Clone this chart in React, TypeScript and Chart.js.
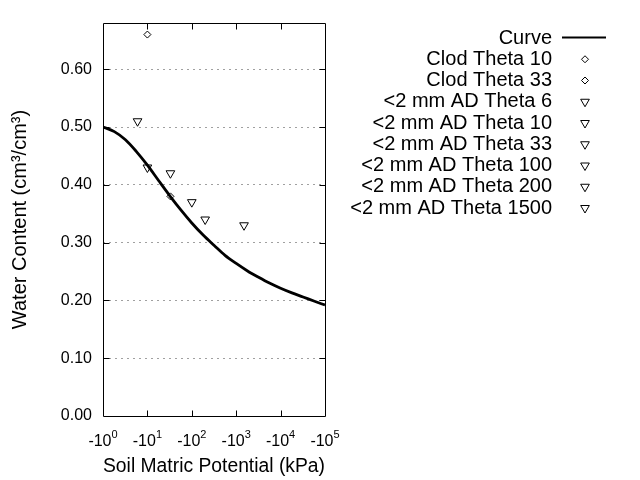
import React, { useEffect, useRef } from "react";
import { Chart, registerables } from "chart.js";

Chart.register(...registerables);

// Fitted retention curve (soil matric potential magnitude in kPa, water content)
const curvePotential = [1, 1.8, 3.2, 5.6, 10, 18, 32, 56, 100, 180, 320, 560, 1000, 1800, 3200, 5600, 10000, 18000, 32000, 56000, 100000];
const curveTheta = [0.5, 0.492, 0.478, 0.458, 0.434, 0.407, 0.381, 0.357, 0.334, 0.313, 0.295, 0.278, 0.264, 0.251, 0.24, 0.23, 0.221, 0.213, 0.206, 0.199, 0.192];

// Measured points
const pointLabels = [
  "Clod Theta 10",
  "Clod Theta 33",
  "<2 mm AD Theta 6",
  "<2 mm AD Theta 10",
  "<2 mm AD Theta 33",
  "<2 mm AD Theta 100",
  "<2 mm AD Theta 200",
  "<2 mm AD Theta 1500",
];
const pointPotential = [10, 33, 6, 10, 33, 100, 200, 1500];
const pointTheta = [0.66, 0.38, 0.51, 0.43, 0.42, 0.37, 0.34, 0.33];
const pointKind = ["diamond", "diamond", "tri", "tri", "tri", "tri", "tri", "tri"];

const xTickValues = [1, 10, 100, 1000, 10000, 100000];
const xTickBase = ["-10", "-10", "-10", "-10", "-10", "-10"];
const xTickExponent = ["0", "1", "2", "3", "4", "5"];
const yTickValues = [0, 0.1, 0.2, 0.3, 0.4, 0.5, 0.6];

const FONT = '"Liberation Sans", Arial, Helvetica, sans-serif';

function drawMarker(ctx: CanvasRenderingContext2D, kind: string, x: number, y: number) {
  ctx.beginPath();
  if (kind === "diamond") {
    const r = 3.5;
    ctx.moveTo(x, y - r);
    ctx.lineTo(x + r, y);
    ctx.lineTo(x, y + r);
    ctx.lineTo(x - r, y);
    ctx.closePath();
  } else {
    const r = 5;
    const s = Math.sqrt(3) / 2;
    ctx.moveTo(x, y + r);
    ctx.lineTo(x - r * s, y - r / 2);
    ctx.lineTo(x + r * s, y - r / 2);
    ctx.closePath();
  }
  ctx.stroke();
}

const framePlugin = {
  id: "frameTicks",
  afterDraw(chart: any) {
    const { ctx, chartArea } = chart;
    const { left, right, top, bottom } = chartArea;
    const xs = chart.scales.x;
    const ys = chart.scales.y;
    ctx.save();
    ctx.strokeStyle = "#000";
    ctx.lineWidth = 1;
    const L = Math.round(left) + 0.5;
    const R = Math.round(right) + 0.5;
    const T = Math.round(top) + 0.5;
    const B = Math.round(bottom) + 0.5;
    ctx.beginPath();
    ctx.rect(L, T, R - L, B - T);
    ctx.stroke();
    ctx.beginPath();
    xTickValues.forEach((v) => {
      const px = Math.round(xs.getPixelForValue(v)) + 0.5;
      if (px <= L + 1 || px >= R - 1) return;
      ctx.moveTo(px, B);
      ctx.lineTo(px, B - 6);
      ctx.moveTo(px, T);
      ctx.lineTo(px, T + 6);
    });
    yTickValues.forEach((v) => {
      const py = Math.round(ys.getPixelForValue(v)) + 0.5;
      if (py >= B - 1 || py <= T + 1) return;
      ctx.moveTo(L, py);
      ctx.lineTo(L + 6, py);
      ctx.moveTo(R, py);
      ctx.lineTo(R - 6, py);
    });
    ctx.stroke();

    // x tick labels with superscript exponents
    ctx.fillStyle = "#000";
    ctx.textBaseline = "alphabetic";
    ctx.textAlign = "left";
    xTickValues.forEach((v, i) => {
      const px = xs.getPixelForValue(v);
      ctx.font = "16px " + FONT;
      const wb = ctx.measureText(xTickBase[i]).width;
      ctx.font = "11px " + FONT;
      const we = ctx.measureText(xTickExponent[i]).width;
      const x0 = px - (wb + we) / 2;
      ctx.font = "16px " + FONT;
      ctx.fillText(xTickBase[i], x0, B + 29);
      ctx.font = "11px " + FONT;
      ctx.fillText(xTickExponent[i], x0 + wb, B + 21);
    });

    // legend
    ctx.font = "20px " + FONT;
    ctx.textAlign = "right";
    ctx.textBaseline = "middle";
    chart.data.datasets.forEach((ds: any, i: number) => {
      const y = 37 + i * 21.25;
      ctx.fillText(ds.label, 552, y + 1);
      if (i === 0) {
        ctx.lineWidth = 2;
        ctx.beginPath();
        ctx.moveTo(562, Math.round(y) + 0.5);
        ctx.lineTo(606, Math.round(y) + 0.5);
        ctx.stroke();
        ctx.lineWidth = 1;
      } else {
        drawMarker(ctx, pointKind[i - 1], 585, y + 1);
      }
    });
    ctx.restore();
  },
};

export default function App() {
  const ref = useRef<HTMLCanvasElement | null>(null);
  useEffect(() => {
    if (!ref.current) return;
    const datasets: any[] = [
      {
        label: "Curve",
        data: curvePotential.map((x, i) => ({ x, y: curveTheta[i] })),
        showLine: true,
        borderColor: "#000",
        borderWidth: 2.8,
        pointRadius: 0,
        cubicInterpolationMode: "monotone",
        fill: false,
      },
    ];
    pointLabels.forEach((label, i) => {
      const tri = pointKind[i] === "tri";
      datasets.push({
        label,
        data: [{ x: pointPotential[i], y: pointTheta[i] }],
        showLine: false,
        borderColor: "#000",
        backgroundColor: "rgba(0,0,0,0)",
        borderWidth: 1,
        pointStyle: tri ? "triangle" : "rectRot",
        pointRotation: tri ? 180 : 0,
        pointRadius: tri ? 5 : 3.5,
        pointHoverRadius: tri ? 5 : 3.5,
      });
    });
    const chart = new Chart(ref.current, {
      type: "scatter",
      data: { datasets },
      options: {
        responsive: false,
        animation: false,
        layout: { padding: { left: 0, top: 23, right: 315, bottom: 0 } },
        plugins: { legend: { display: false }, tooltip: { enabled: false } },
        scales: {
          x: {
            type: "logarithmic",
            min: 1,
            max: 100000,
            afterBuildTicks: (s: any) => {
              s.ticks = xTickValues.map((v) => ({ value: v }));
            },
            afterFit: (s: any) => {
              s.height = 64;
            },
            ticks: { display: false },
            grid: { display: false, drawTicks: false },
            border: { display: false },
            title: {
              display: true,
              text: "Soil Matric Potential (kPa)",
              color: "#000",
              font: { family: FONT, size: 20 },
              padding: { top: 0, bottom: 2 },
            },
          },
          y: {
            min: 0,
            max: 0.68,
            afterBuildTicks: (s: any) => {
              s.ticks = yTickValues.map((v) => ({ value: v }));
            },
            afterFit: (s: any) => {
              s.width = 103;
            },
            ticks: {
              padding: 11,
              color: "#000",
              font: { family: FONT, size: 16 },
              callback: (v: any) => Number(v).toFixed(2),
            },
            grid: {
              drawTicks: false,
              color: (c: any) => (c.tick && c.tick.value === 0 ? "rgba(0,0,0,0)" : "#a0a0a0"),
              lineWidth: 1,
            },
            border: { display: false, dash: [2, 4] },
            title: {
              display: true,
              text: "Water Content (cm\u00b3/cm\u00b3)",
              color: "#000",
              font: { family: FONT, size: 20 },
              padding: { top: 8, bottom: 0 },
            },
          },
        },
      },
      plugins: [framePlugin],
    } as any);
    return () => chart.destroy();
  }, []);
  return (
    <div style={{ position: "fixed", left: 0, top: 0, width: 640, height: 480, background: "#fff" }}>
      <canvas ref={ref} width={640} height={480} style={{ display: "block" }} />
    </div>
  );
}
